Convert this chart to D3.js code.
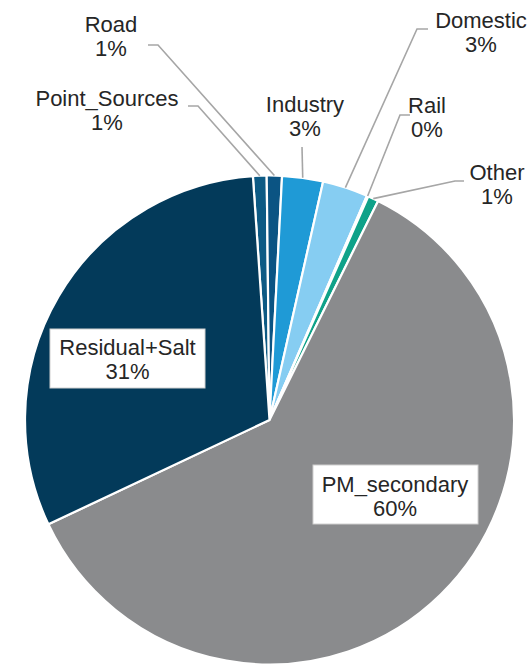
<!DOCTYPE html>
<html><head><meta charset="utf-8">
<script src="https://cdn.jsdelivr.net/npm/d3@7"></script>
<style>body{margin:0;background:#fff}svg{display:block}</style>
</head><body>
<script>
const categories = ["Point_Sources","Road","Industry","Domestic","Rail","Other","PM_secondary","Residual+Salt"];
const values = [0.9, 1.0, 2.7, 3.0, 0.1, 0.7, 60.6, 30.9];
const pctLabels = ["1%","1%","3%","3%","0%","1%","60%","31%"];
const colors = ["#0d5a84","#0b5483","#1f9ad6","#86cdf2","#5fd0e6","#0fa289","#8a8b8d","#033a5a"];

// label layout: [centerX, firstBaselineY, leader polyline start points]
const labelLayout = {
  "Point_Sources": {x:107, y:106, line:[[188,106],[198,106]]},
  "Road": {x:111, y:32, line:[[148,45],[158,45]]},
  "Industry": {x:305, y:112, line:[[302,147]]},
  "Domestic": {x:481, y:28, line:[[428,29],[417,29]]},
  "Rail": {x:427, y:113, line:[[410,115],[400,115]]},
  "Other": {x:497, y:180, line:[[464,181],[455,181]]},
  "PM_secondary": {x:395, y:492, box:[313,465,165,59]},
  "Residual+Salt": {x:127.5, y:355, box:[50,329,155,59]}
};

const W=532,H=667, cx=269.5, cy=420, R=244.5;
const svg=d3.select("body").append("svg").attr("width",W).attr("height",H);
const g=svg.append("g").attr("transform",`translate(${cx},${cy})`);
const start=-3.9*Math.PI/180;
const pie=d3.pie().sort(null).value(d=>d.v).startAngle(start).endAngle(start+2*Math.PI);
const data=categories.map((c,i)=>({c,v:values[i],p:pctLabels[i],col:colors[i]}));
const arcs=pie(data);
const arc=d3.arc().innerRadius(0).outerRadius(R);
g.selectAll("path.slice").data(arcs).enter().append("path")
  .attr("d",arc).attr("fill",d=>d.data.col)
  .attr("stroke","#fff").attr("stroke-width",2.2).attr("stroke-linejoin","round");

const font="'Liberation Sans', Arial, sans-serif";
arcs.forEach(a=>{
  const L=labelLayout[a.data.c];
  if(L.line){
    const mid=(a.startAngle+a.endAngle)/2;
    const ex=cx+R*Math.sin(mid), ey=cy-R*Math.cos(mid);
    const pts=L.line.concat([[ex,ey]]);
    svg.append("path").attr("d",d3.line()(pts)).attr("fill","none")
      .attr("stroke","#a6a6a6").attr("stroke-width",1.6);
  }
  if(L.box){
    svg.append("rect").attr("x",L.box[0]).attr("y",L.box[1]).attr("width",L.box[2]).attr("height",L.box[3])
      .attr("fill","#fff").attr("stroke","#d0d0d0").attr("stroke-width",1);
  }
  const t=svg.append("text").attr("text-anchor","middle").attr("font-family",font)
    .attr("font-size",22).attr("fill","#262626");
  t.append("tspan").attr("x",L.x).attr("y",L.y).text(a.data.c);
  t.append("tspan").attr("x",L.x).attr("y",L.y+24).text(a.data.p);
});
</script>
</body></html>
